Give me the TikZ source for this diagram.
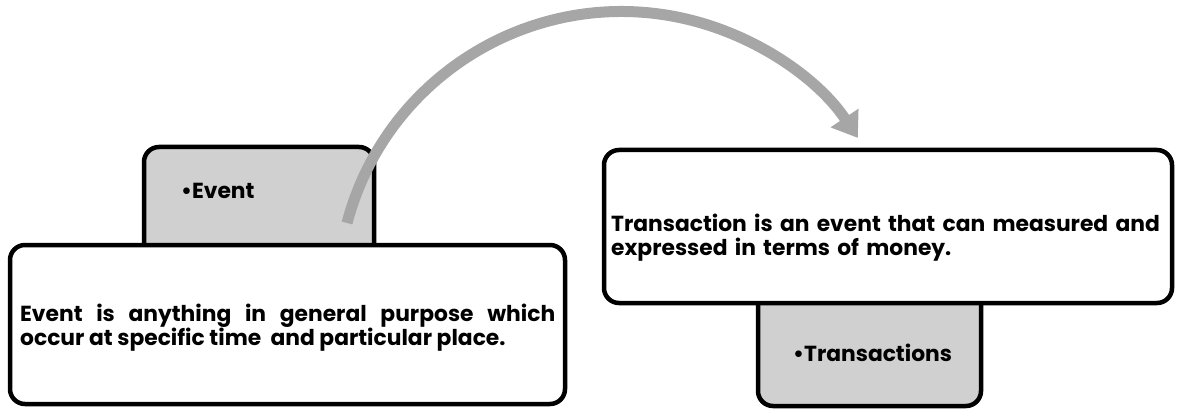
\documentclass[tikz,border=0pt]{standalone}
\usepackage{fontspec}
\setmainfont{Poppins}
\usetikzlibrary{arrows.meta}
\definecolor{tabgray}{HTML}{D0D0D0}
\definecolor{arrowgray}{HTML}{A6A6A6}
\begin{document}
\begin{tikzpicture}[x=1pt,y=1pt,
  card/.style={draw=black, line width=4.5pt, rounded corners=15pt, fill=white, inner sep=0pt},
  tabcard/.style={card, fill=tabgray},
  txt/.style={font=\bfseries\fontsize{21.8}{24}\selectfont, inner sep=0pt, anchor=west},
  flow/.style={draw=arrowgray, line width=11pt, -{Triangle[width=32pt,length=24pt]}}]
\useasboundingbox (0,0) rectangle (1177,410);

% Event: grey tab behind the white description card
\node[tabcard, minimum width=230pt, minimum height=113pt] (evtab) at (259,206.5) {};

% curved flow arrow from the event tab over to the transaction card
\coordinate (flowstart) at (347,187);
\draw[flow] (flowstart) arc[start angle=165.2, end angle=33.7, radius=284] coordinate (flowend);

\node[card, minimum width=555pt, minimum height=159pt] (evcard) at (287.5,85.5) {};

% Transaction: grey tab below the white description card
\node[tabcard, minimum width=223pt, minimum height=116pt] (trtab) at (869.5,62) {};
\node[card, minimum width=568pt, minimum height=153pt] (trcard) at (888,183.5) {};

% texts
\node[txt] (evlabel) at (181,219) {•Event};
\node[txt, text width=535pt, align=justify] (evtext) at (20,82)
  {Event is anything in general purpose which\linebreak occur at specific time\ \ and particular place.};
\node[txt, text width=560pt, align=left] (trtext) at (611,172)
  {Transaction is an event that can measured and\\expressed in terms of money.};
\node[txt] (trlabel) at (793,57) {•Transactions};
\end{tikzpicture}
\end{document}
